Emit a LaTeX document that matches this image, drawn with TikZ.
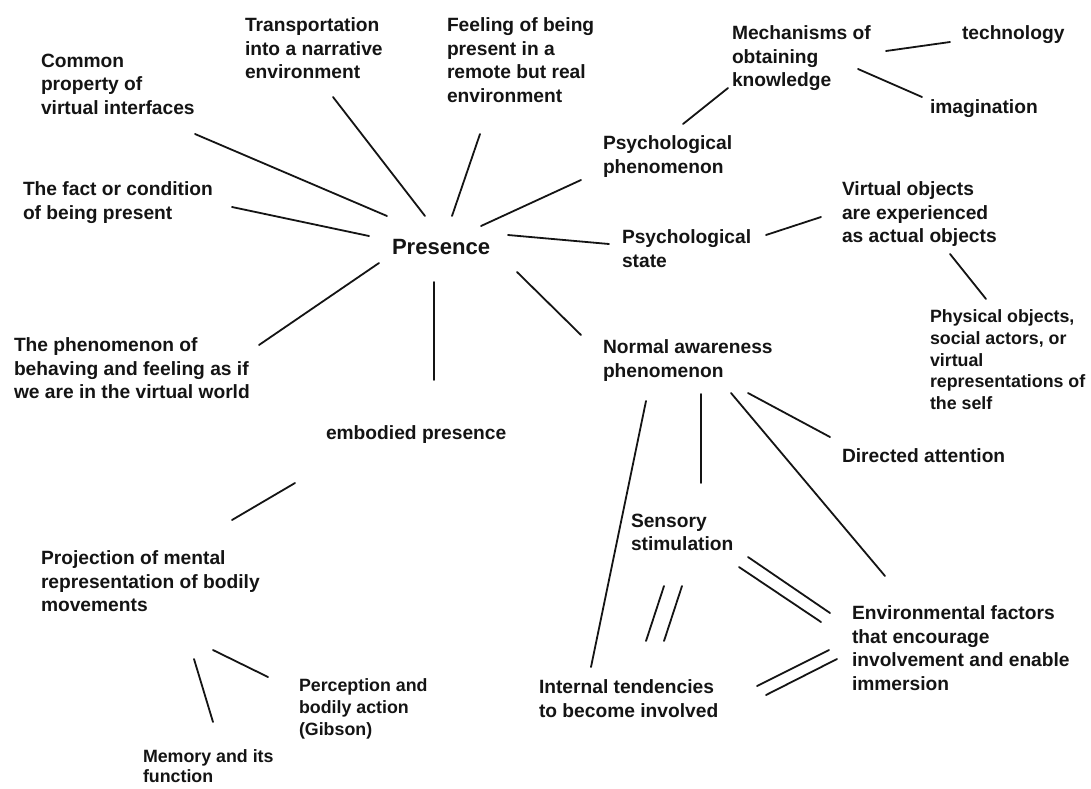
\documentclass[tikz,border=0pt]{standalone}
\usepackage{fontspec}
\setmainfont{Liberation Sans}
\begin{document}
\begin{tikzpicture}[x=1pt,y=-1pt,
  lbl/.style={anchor=north west,inner sep=0pt,outer sep=0pt,align=left,text=black!92,font={\bfseries\fontsize{19.2}{23.5}\selectfont}},
  sml/.style={lbl,font={\bfseries\fontsize{17.8}{21.6}\selectfont}},
  smlt/.style={lbl,font={\bfseries\fontsize{17.8}{19.8}\selectfont}},
  bigl/.style={lbl,font={\bfseries\fontsize{22.1}{26}\selectfont}},
  conn/.style={line width=1.8pt,line cap=round,black!92}]
\fill[white] (0,0) rectangle (1091,788);
\useasboundingbox (0,0) rectangle (1091,788);

% nodes (x = left edge, y = top of first line)
\node[lbl]  (common)   at (41,54)   {Common\\property of\\virtual interfaces};
\node[lbl]  (transp)   at (245,18)  {Transportation\\into a narrative\\environment};
\node[lbl]  (feeling)  at (447,18)  {Feeling of being\\present in a\\remote but real\\environment};
\node[lbl]  (fact)     at (23,182)  {The fact or condition\\of being present};
\node[lbl]  (phen)     at (14,338)  {The phenomenon of\\behaving and feeling as if\\we are in the virtual world};
\node[bigl] (pres)     at (392,239) {Presence};
\node[lbl]  (psyphen)  at (603,136) {Psychological\\phenomenon};
\node[lbl]  (mech)     at (732,26)  {Mechanisms of\\obtaining\\knowledge};
\node[lbl]  (tech)     at (962,26)  {technology};
\node[lbl]  (imag)     at (930,100) {imagination};
\node[lbl]  (psystate) at (622,230) {Psychological\\state};
\node[lbl]  (virt)     at (842,182) {Virtual objects\\are experienced\\as actual objects};
\node[sml]  (phys)     at (930,310) {Physical objects,\\social actors, or\\virtual\\representations of\\the self};
\node[lbl]  (normal)   at (603,340) {Normal awareness\\phenomenon};
\node[lbl]  (embod)    at (326,426) {embodied presence};
\node[lbl]  (direct)   at (842,449) {Directed attention};
\node[lbl]  (proj)     at (41,551)  {Projection of mental\\representation of bodily\\movements};
\node[lbl]  (sens)     at (631,514) {Sensory\\stimulation};
\node[lbl]  (env)      at (852,606) {Environmental factors\\that encourage\\involvement and enable\\immersion};
\node[lbl]  (intern)   at (539,680) {Internal tendencies\\to become involved};
\node[sml]  (perc)     at (299,679) {Perception and\\bodily action\\(Gibson)};
\node[smlt] (mem)      at (143,750) {Memory and its\\function};

% connector end points
\coordinate (common-e)   at (195,134); \coordinate (pres-a) at (387,216);
\coordinate (transp-s)   at (333,97);  \coordinate (pres-b) at (425,216);
\coordinate (feeling-s)  at (480,134); \coordinate (pres-c) at (452,216);
\coordinate (fact-e)     at (232,207); \coordinate (pres-d) at (369,236);
\coordinate (phen-e)     at (259,345); \coordinate (pres-e) at (379,263);
\coordinate (psyphen-w)  at (581,180); \coordinate (pres-f) at (481,226);
\coordinate (psystate-w) at (609,244); \coordinate (pres-g) at (508,235);
\coordinate (normal-n)   at (581,335); \coordinate (pres-h) at (517,272);
\coordinate (embod-n)    at (434,380); \coordinate (pres-i) at (434,282);
\coordinate (psyphen-n)  at (683,124); \coordinate (mech-s) at (728,88);
\coordinate (mech-e)     at (886,51);  \coordinate (tech-w) at (950,42);
\coordinate (mech-se)    at (858,69);  \coordinate (imag-w) at (922,97);
\coordinate (psystate-e) at (766,235); \coordinate (virt-w) at (821,217);
\coordinate (virt-s)     at (950,254); \coordinate (phys-n) at (986,299);
\coordinate (normal-a)   at (646,401); \coordinate (intern-n) at (591,667);
\coordinate (normal-b)   at (701,394); \coordinate (sens-n) at (701,483);
\coordinate (normal-c)   at (748,393); \coordinate (direct-w) at (830,437);
\coordinate (normal-d)   at (731,393); \coordinate (env-n) at (885,576);
\coordinate (sens-a)     at (748,557); \coordinate (env-a) at (830,613);
\coordinate (sens-b)     at (739,567); \coordinate (env-b) at (821,622);
\coordinate (sens-c)     at (664,586); \coordinate (intern-a) at (646,641);
\coordinate (sens-d)     at (682,586); \coordinate (intern-b) at (664,641);
\coordinate (intern-c)   at (757,686); \coordinate (env-c) at (829,650);
\coordinate (intern-d)   at (766,695); \coordinate (env-d) at (837,659);
\coordinate (embod-s)    at (295,483); \coordinate (proj-n) at (232,520);
\coordinate (proj-a)     at (213,650); \coordinate (perc-w) at (268,677);
\coordinate (proj-b)     at (194,659); \coordinate (mem-n) at (213,722);

% connectors
\draw[conn] (common-e) -- (pres-a);
\draw[conn] (transp-s) -- (pres-b);
\draw[conn] (feeling-s) -- (pres-c);
\draw[conn] (fact-e) -- (pres-d);
\draw[conn] (phen-e) -- (pres-e);
\draw[conn] (pres-f) -- (psyphen-w);
\draw[conn] (pres-g) -- (psystate-w);
\draw[conn] (pres-h) -- (normal-n);
\draw[conn] (pres-i) -- (embod-n);
\draw[conn] (psyphen-n) -- (mech-s);
\draw[conn] (mech-e) -- (tech-w);
\draw[conn] (mech-se) -- (imag-w);
\draw[conn] (psystate-e) -- (virt-w);
\draw[conn] (virt-s) -- (phys-n);
\draw[conn] (normal-a) -- (intern-n);
\draw[conn] (normal-b) -- (sens-n);
\draw[conn] (normal-c) -- (direct-w);
\draw[conn] (normal-d) -- (env-n);
\draw[conn] (sens-a) -- (env-a);
\draw[conn] (sens-b) -- (env-b);
\draw[conn] (sens-c) -- (intern-a);
\draw[conn] (sens-d) -- (intern-b);
\draw[conn] (intern-c) -- (env-c);
\draw[conn] (intern-d) -- (env-d);
\draw[conn] (embod-s) -- (proj-n);
\draw[conn] (proj-a) -- (perc-w);
\draw[conn] (proj-b) -- (mem-n);
\end{tikzpicture}
\end{document}
